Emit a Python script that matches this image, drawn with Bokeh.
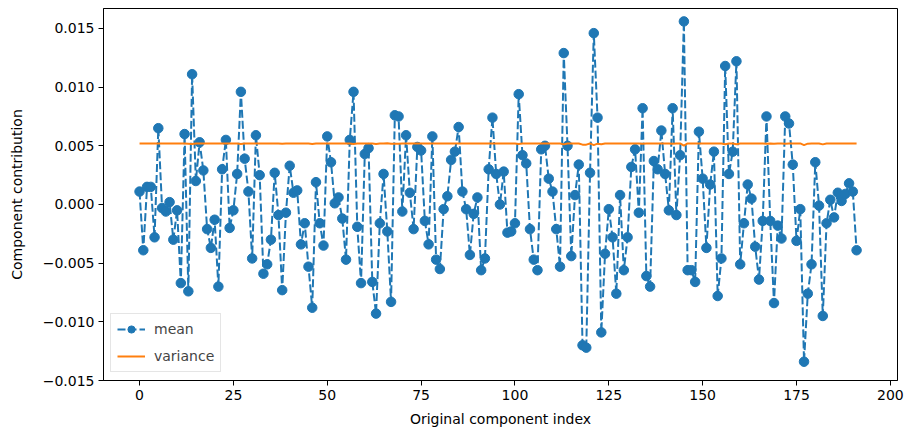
from bokeh.plotting import figure
from bokeh.models import FixedTicker, CustomJSTickFormatter, Range1d, Legend
from bokeh.embed import file_html
from bokeh.resources import INLINE

mean_vals = [
    0.0011, -0.0039, 0.0015, 0.0015, -0.0028, 0.0065, -0.0003, -0.0006, 0.0002, -0.0030,
    -0.0005, -0.0067, 0.0060, -0.0074, 0.0111, 0.0020, 0.0053, 0.0029, -0.0021, -0.0037,
    -0.0013, -0.0070, 0.0030, 0.0055, -0.0020, -0.0005, 0.0026, 0.0096, 0.0039, 0.0011,
    -0.0046, 0.0059, 0.0025, -0.0059, -0.0051, -0.0030, 0.0027, -0.0009, -0.0073, -0.0007,
    0.0033, 0.0010, 0.0012, -0.0034, -0.0016, -0.0053, -0.0088, 0.0019, -0.0016, -0.0035,
    0.0058, 0.0036, 0.0001, 0.0006, -0.0012, -0.0047, 0.0055, 0.0096, -0.0019, -0.0067,
    0.0043, 0.0048, -0.0066, -0.0093, -0.0016, 0.0026, -0.0023, -0.0083, 0.0076, 0.0075,
    -0.0006, 0.0059, 0.0010, -0.0021, 0.0049, 0.0046, -0.0014, -0.0034, 0.0058, -0.0047,
    -0.0055, -0.0004, 0.0007, 0.0038, 0.0045, 0.0066, 0.0011, -0.0004, -0.0043, -0.0008,
    0.0006, -0.0056, -0.0046, 0.0030, 0.0074, 0.0026, 0.0000, 0.0028, -0.0024, -0.0023,
    -0.0016, 0.0094, 0.0042, 0.0035, -0.0021, -0.0047, -0.0056, 0.0047, 0.0050, 0.0022,
    0.0011, -0.0021, -0.0053, 0.0129, 0.0050, -0.0044, 0.0008, 0.0034, -0.0120, -0.0122,
    0.0027, 0.0146, 0.0074, -0.0109, -0.0042, -0.0004, -0.0028, -0.0076, 0.0008, -0.0056,
    -0.0028, 0.0032, 0.0047, -0.0007, 0.0082, -0.0061, -0.0070, 0.0037, 0.0030, 0.0063,
    0.0026, -0.0005, 0.0082, -0.0009, 0.0042, 0.0156, -0.0056, -0.0056, -0.0066, 0.0062,
    0.0022, -0.0037, 0.0017, 0.0045, -0.0078, -0.0046, 0.0118, 0.0026, 0.0045, 0.0122,
    -0.0051, -0.0016, 0.0017, 0.0005, -0.0036, -0.0064, -0.0014, 0.0075, -0.0014, -0.0084,
    -0.0018, -0.0029, 0.0075, 0.0069, 0.0034, -0.0031, -0.0004, -0.0134, -0.0076, -0.0051,
    0.0036, -0.0001, -0.0095, -0.0016, 0.0004, -0.0011, 0.0010, 0.0003, 0.0009, 0.0018,
    0.0011, -0.0039,
]

variance_vals = [
    0.00520, 0.00520, 0.00520, 0.00520, 0.00520, 0.00519, 0.00520, 0.00520, 0.00520, 0.00520, 0.00520, 0.00519, 0.00519, 0.00518, 0.00516, 0.00520,
    0.00520, 0.00520, 0.00520, 0.00520, 0.00520, 0.00519, 0.00520, 0.00520, 0.00520, 0.00520, 0.00520, 0.00516, 0.00520, 0.00520, 0.00520, 0.00519,
    0.00520, 0.00519, 0.00520, 0.00520, 0.00520, 0.00520, 0.00518, 0.00520, 0.00520, 0.00520, 0.00520, 0.00520, 0.00520, 0.00519, 0.00516, 0.00520,
    0.00520, 0.00520, 0.00520, 0.00520, 0.00520, 0.00520, 0.00520, 0.00520, 0.00520, 0.00516, 0.00520, 0.00519, 0.00520, 0.00520, 0.00519, 0.00516,
    0.00520, 0.00520, 0.00521, 0.00517, 0.00518, 0.00518, 0.00520, 0.00520, 0.00520, 0.00520, 0.00520, 0.00520, 0.00520, 0.00520, 0.00520, 0.00520,
    0.00520, 0.00520, 0.00520, 0.00520, 0.00520, 0.00519, 0.00520, 0.00520, 0.00520, 0.00520, 0.00520, 0.00520, 0.00520, 0.00520, 0.00519, 0.00520,
    0.00520, 0.00520, 0.00520, 0.00520, 0.00520, 0.00515, 0.00520, 0.00520, 0.00520, 0.00520, 0.00520, 0.00520, 0.00520, 0.00520, 0.00520, 0.00520,
    0.00520, 0.00512, 0.00520, 0.00520, 0.00520, 0.00520, 0.00510, 0.00510, 0.00520, 0.00506, 0.00518, 0.00514, 0.00520, 0.00520, 0.00520, 0.00519,
    0.00520, 0.00520, 0.00520, 0.00520, 0.00520, 0.00520, 0.00518, 0.00520, 0.00519, 0.00520, 0.00520, 0.00520, 0.00520, 0.00520, 0.00518, 0.00520,
    0.00520, 0.00502, 0.00520, 0.00520, 0.00520, 0.00520, 0.00520, 0.00520, 0.00520, 0.00520, 0.00519, 0.00520, 0.00514, 0.00520, 0.00520, 0.00514,
    0.00520, 0.00520, 0.00520, 0.00520, 0.00520, 0.00519, 0.00520, 0.00518, 0.00520, 0.00517, 0.00520, 0.00520, 0.00518, 0.00519, 0.00520, 0.00520,
    0.00520, 0.00506, 0.00518, 0.00520, 0.00520, 0.00520, 0.00512, 0.00520, 0.00520, 0.00520, 0.00520, 0.00520, 0.00520, 0.00520, 0.00520, 0.00520,
]

index_vals = list(range(len(mean_vals)))
x_ticks = [0, 25, 50, 75, 100, 125, 150, 175, 200]
y_ticks = [-0.015, -0.010, -0.005, 0.0, 0.005, 0.010, 0.015]

FONT = "DejaVu Sans"
BLUE = "#1f77b4"
ORANGE = "#ff7f0e"

p = figure(width=907, height=432, output_backend="svg", toolbar_location=None,
           min_border_left=103, min_border_right=10, min_border_top=8, min_border_bottom=52,
           x_range=Range1d(-9.6, 201.9), y_range=Range1d(-0.0150, 0.0167))

p.xgrid.visible = False
p.ygrid.visible = False
p.outline_line_color = "black"
p.outline_line_width = 1
p.outline_line_alpha = 1
p.background_fill_color = "white"
p.border_fill_color = "white"

r_line = p.line(index_vals, mean_vals, line_color=BLUE, line_width=2, line_dash="8 3")
r_pts = p.scatter(index_vals, mean_vals, size=9.5, fill_color=BLUE, line_color=BLUE)
r_var = p.line(index_vals, variance_vals, line_color=ORANGE, line_width=2)

legend = Legend(items=[("mean", [r_line, r_pts]), ("variance", [r_var])],
                location=(7, 8))
legend.label_text_font = FONT
legend.label_text_font_size = "14px"
legend.border_line_color = "#cccccc"
legend.border_line_width = 1
legend.background_fill_alpha = 0.8
legend.glyph_width = 28
legend.glyph_height = 18
legend.label_standoff = 9
legend.padding = 6
legend.spacing = 9
legend.margin = 0
p.add_layout(legend, "center")

for ax in (p.xaxis[0], p.yaxis[0]):
    ax.axis_line_color = "black"
    ax.major_tick_line_color = "black"
    ax.major_tick_out = 5
    ax.major_tick_in = 0
    ax.minor_tick_line_color = None
    ax.major_label_text_font = FONT
    ax.major_label_text_font_size = "14px"
    ax.major_label_text_color = "black"
    ax.axis_label_text_font = FONT
    ax.axis_label_text_font_size = "14px"
    ax.axis_label_text_font_style = "normal"
    ax.axis_label_text_color = "black"

p.xaxis.ticker = FixedTicker(ticks=x_ticks)
p.yaxis.ticker = FixedTicker(ticks=y_ticks)
p.yaxis.formatter = CustomJSTickFormatter(code="return tick.toFixed(3).replace('-', '\u2212');")
p.xaxis.axis_label = "Original component index"
p.yaxis.axis_label = "Component contribution"
p.xaxis.major_label_standoff = 4
p.yaxis.major_label_standoff = 4
p.xaxis.axis_label_standoff = 8
p.yaxis.axis_label_standoff = 15

open("out.html", "w").write(file_html(p, INLINE))
